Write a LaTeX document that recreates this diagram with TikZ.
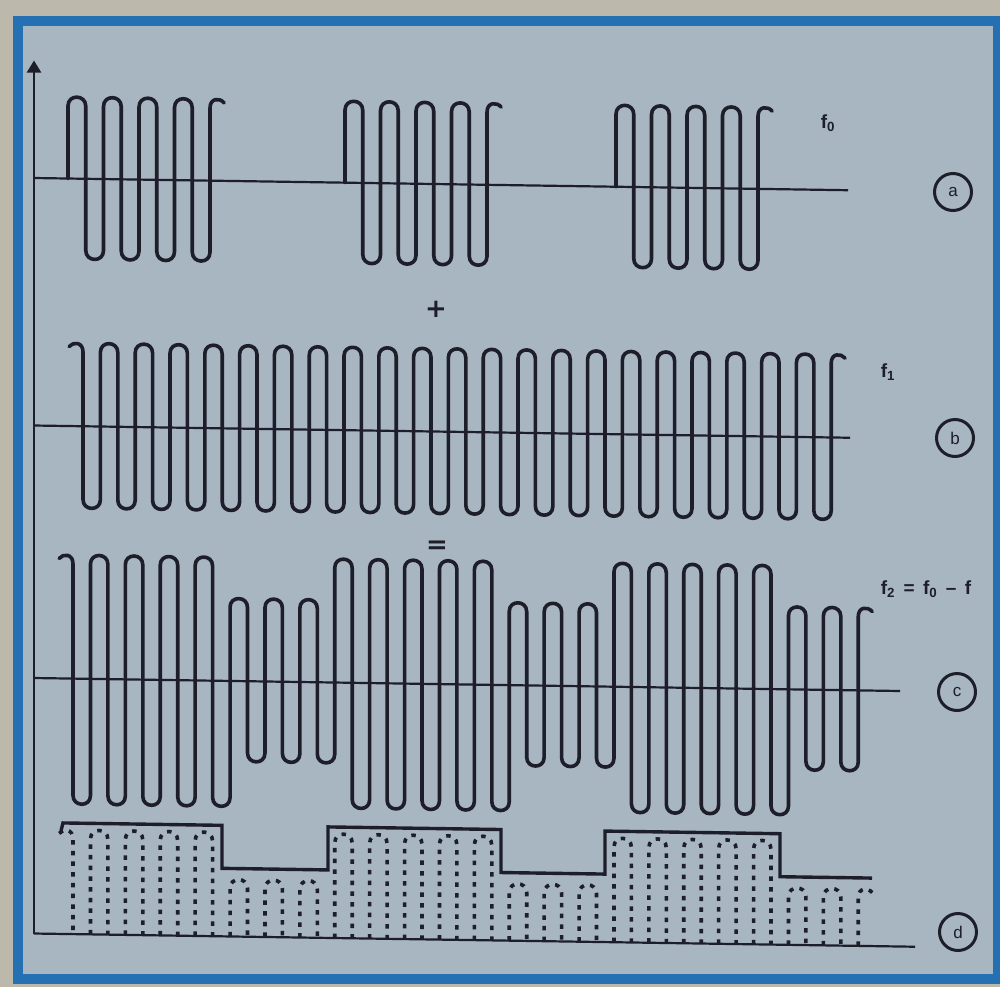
\documentclass[tikz,border=0pt]{standalone}
\usepackage{fontspec}
\newfontfamily\labelfont{Liberation Sans}
\newfontfamily\signfont{DejaVu Sans}
\usetikzlibrary{arrows.meta}
\definecolor{pagebg}{HTML}{BCB8AC}
\definecolor{panel}{HTML}{A7B6C1}
\definecolor{frameblue}{HTML}{2470B2}
\definecolor{ink}{HTML}{1E1E2A}
\begin{document}
\begin{tikzpicture}[x=1pt,y=-1pt,
  wave/.style={draw=ink, line width=3.6pt, line join=round, line cap=round},
  axisline/.style={draw=ink, line width=2.2pt},
  dotwave/.style={draw=ink, line width=3.6pt, dash pattern=on 4.5pt off 6.2pt},
  envelope/.style={draw=ink, line width=3.4pt, line join=miter},
  lbl/.style={text=ink, font=\labelfont\bfseries\fontsize{19}{19}\selectfont, inner sep=0pt},
  circlbl/.style={draw=ink, circle, line width=3pt, minimum size=37pt, inner sep=0pt, text=ink, font=\labelfont\fontsize{17}{17}\selectfont},
  sign/.style={text=ink, font=\signfont\bfseries\fontsize{26}{26}\selectfont, inner sep=0pt}]

\useasboundingbox (0,0) rectangle (1000,987);
\fill[pagebg] (0,0) rectangle (1000,987);
\draw[frameblue, line width=10pt, fill=panel] (18,21) rectangle (998,979);

\begin{scope}[yslant=-0.015]
  % axes and baselines
  \coordinate (O) at (34,933);
  \coordinate (Ytop) at (34,60);
  \coordinate (Dend) at (915,933);
  \draw[axisline, -{Triangle[length=12pt,width=14pt]}] (O) -- (Ytop);
  \draw[axisline] (O) -- (Dend);
  \coordinate (a0) at (34,177.5); \coordinate (a1) at (848,177.5);
  \coordinate (b0) at (34,425);   \coordinate (b1) at (850,425);
  \coordinate (c0) at (34,677.5); \coordinate (c1) at (900,677.5);
  \draw[axisline] (a0) -- (a1);
  \draw[axisline] (b0) -- (b1);
  \draw[axisline] (c0) -- (c1);

  % (a) three bursts
  \foreach \bx in {68,345,616} {
    \draw[wave] (\bx,177.5) \foreach \k in {0,...,3} {
      -- ({\bx+35.5*\k},104.9) .. controls ({\bx+35.5*\k},93) and ({\bx+35.5*\k+17.75},93) .. ({\bx+35.5*\k+17.75},104.9)
      -- ({\bx+35.5*\k+17.75},249.1) .. controls ({\bx+35.5*\k+17.75},261) and ({\bx+35.5*\k+35.5},261) .. ({\bx+35.5*\k+35.5},249.1)
    } -- ({\bx+142},104.9) .. controls ({\bx+142},94.7) and ({\bx+151.8},94.2) .. ({\bx+156.2},99.6);
  }

  % (b) continuous carrier
  \draw[wave] (69.1,345.5) .. controls (73.4,340.3) and (83,340.7) .. (83,350.7)
    -- (83,498.3) .. controls (83,509.9) and (100.4,509.9) .. (100.4,498.3)
    \foreach \k in {0,...,20} {
      -- ({100.4+34.8*\k},350.7) .. controls ({100.4+34.8*\k},339.1) and ({117.8+34.8*\k},339.1) .. ({117.8+34.8*\k},350.7)
      -- ({117.8+34.8*\k},498.3) .. controls ({117.8+34.8*\k},509.9) and ({135.2+34.8*\k},509.9) .. ({135.2+34.8*\k},498.3)
    } -- (831.2,350.7) .. controls (831.2,340.7) and (840.8,340.3) .. (845.1,345.5);

  % (c) sum signal
  \draw[wave] (59.1,557.5) .. controls (63.4,552.3) and (73,552.7) .. (73,562.7)
    \foreach \j/\ap/\s in {0/803/-1, 1/554/1, 2/803/-1, 3/554/1, 4/803/-1, 5/554/1, 6/803/-1, 7/554/1,
      8/803/-1, 9/595/1, 10/758/-1, 11/595/1, 12/758/-1, 13/595/1, 14/758/-1,
      15/554/1, 16/803/-1, 17/554/1, 18/803/-1, 19/554/1, 20/803/-1, 21/554/1, 22/803/-1, 23/554/1,
      24/803/-1, 25/595/1, 26/758/-1, 27/595/1, 28/758/-1, 29/595/1, 30/758/-1,
      31/554/1, 32/803/-1, 33/554/1, 34/803/-1, 35/554/1, 36/803/-1, 37/554/1, 38/803/-1, 39/554/1,
      40/803/-1, 41/595/1, 42/758/-1, 43/595/1, 44/758/-1} {
      -- ({73+17.45*\j},{\ap+8.7*(\s)}) .. controls ({73+17.45*\j},{\ap-2.9*(\s)}) and ({90.45+17.45*\j},{\ap-2.9*(\s)}) .. ({90.45+17.45*\j},{\ap+8.7*(\s)})
    } -- (858.25,603.7) .. controls (858.25,593.7) and (867.8,593.3) .. (872.2,598.5);

  % (d) detected signal: dotted half waves and envelope
  \draw[dotwave] (59.1,832.5) .. controls (63.4,827.3) and (73,827.7) .. (73,837.7) -- (73,933);
  \foreach \k/\ap in {0/829,1/829,2/829,3/829,4/876,5/876,6/876,7/829,8/829,9/829,10/829,11/829,
      12/876,13/876,14/876,15/829,16/829,17/829,18/829,19/829,20/876,21/876} {
    \draw[dotwave] ({73+17.45*(2*\k+1)},933) -- ({73+17.45*(2*\k+1)},{\ap+8.7})
      .. controls ({73+17.45*(2*\k+1)},{\ap-2.9}) and ({73+17.45*(2*\k+2)},{\ap-2.9}) .. ({73+17.45*(2*\k+2)},{\ap+8.7})
      -- ({73+17.45*(2*\k+2)},933);
  }
  \draw[dotwave] (858.25,933) -- (858.25,884.7) .. controls (858.25,874.7) and (867.8,874.3) .. (872.2,879.5);
  \draw[envelope] (61,830) -- (63,822) -- (222,822) -- (222,865) -- (328,865) -- (328,822)
    -- (501,822) -- (501,865) -- (605,865) -- (605,822) -- (780,822) -- (780,865) -- (872,865);
\end{scope}

% labels
\node[lbl] (f0) at (828,123) {f\textsubscript{0}};
\node[lbl] (f1) at (888,372) {f\textsubscript{1}};
\node[lbl] (f2) at (926,589) {f\textsubscript{2}\, =\, f\textsubscript{0}\, –\, f};
\node[circlbl] (ca) at (953,192) {a};
\node[circlbl] (cb) at (955,438) {b};
\node[circlbl] (cc) at (957,692) {c};
\node[circlbl] (cd) at (958,932) {d};
\node[sign] (plus) at (436,309) {+};
\node[sign] (eq) at (437,547) {=};
\end{tikzpicture}
\end{document}
